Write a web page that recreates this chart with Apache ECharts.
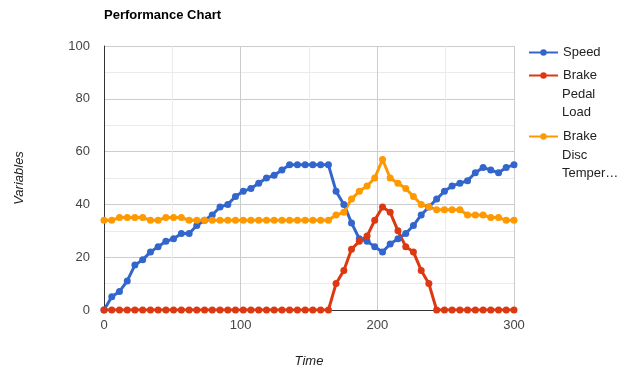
<!DOCTYPE html>
<html>
<head>
<meta charset="utf-8">
<script src="https://cdn.jsdelivr.net/npm/echarts@6/dist/echarts.min.js"></script>
<style>
  html, body { margin: 0; padding: 0; background: #fff; }
  #chart { width: 635px; height: 373px; }
</style>
</head>
<body>
<div id="chart"></div>
<script>
// Sample times (x) shared by all three series
const timeValues = [
  0, 5.7, 11.3, 17.0, 22.6, 28.3, 34.0, 39.6, 45.3, 50.9,
  56.6, 62.3, 67.9, 73.6, 79.2, 84.9, 90.6, 96.2, 101.9, 107.5,
  113.2, 118.9, 124.5, 130.2, 135.8, 141.5, 147.2, 152.8, 158.5, 164.2,
  169.8, 175.5, 181.1, 186.8, 192.5, 198.1, 203.8, 209.4, 215.1, 220.8,
  226.4, 232.1, 237.7, 243.4, 249.1, 254.7, 260.4, 266.0, 271.7, 277.4,
  283.0, 288.7, 294.3, 300.0
];

const speed = [
  0, 5, 7, 11, 17, 19, 22, 24, 26, 27,
  29, 29, 32, 34, 36, 39, 40, 43, 45, 46,
  48, 50, 51, 53, 55, 55, 55, 55, 55, 55,
  45, 40, 33, 27, 26, 24, 22, 25, 27, 29,
  32, 36, 39, 42, 45, 47, 48, 49, 52, 54,
  53, 52, 54, 55
];

const brakePedalLoad = [
  0, 0, 0, 0, 0, 0, 0, 0, 0, 0,
  0, 0, 0, 0, 0, 0, 0, 0, 0, 0,
  0, 0, 0, 0, 0, 0, 0, 0, 0, 0,
  10, 15, 23, 26, 28, 34, 39, 37, 30, 24,
  22, 15, 10, 0, 0, 0, 0, 0, 0, 0,
  0, 0, 0, 0
];

const brakeDiscTemp = [
  34, 34, 35, 35, 35, 35, 34, 34, 35, 35,
  35, 34, 34, 34, 34, 34, 34, 34, 34, 34,
  34, 34, 34, 34, 34, 34, 34, 34, 34, 34,
  36, 37, 42, 45, 47, 50, 57, 50, 48, 46,
  43, 40, 39, 38, 38, 38, 38, 36, 36, 36,
  35, 35, 34, 34
];

const seriesNames = ['Speed', 'Brake Pedal Load', 'Brake Disc Temperature'];
const seriesColors = ['#3366cc', '#dc3912', '#ff9900'];
const xTicks = [0, 100, 200, 300];
const yTicks = [0, 20, 40, 60, 80, 100];

const FONT = 'Arial, "Liberation Sans", sans-serif';

const chart = echarts.init(document.getElementById('chart'), null, { renderer: 'canvas' });

function lineSeries(name, values, color) {
  return {
    name: name,
    type: 'line',
    data: timeValues.map((t, i) => [t, values[i]]),
    symbol: 'circle',
    symbolSize: 7,
    showSymbol: true,
    itemStyle: { color: color },
    lineStyle: { color: color, width: 3 },
    emphasis: { disabled: true },
    animation: false
  };
}

const legendBase = {
  orient: 'vertical',
  left: 528,
  padding: 0,
  itemWidth: 29,
  itemHeight: 8,
  textStyle: { fontFamily: FONT, fontSize: 13, color: '#222' },
  selectedMode: false
};

// wrapped continuation lines of the two long legend entries
const extraLegendLines = [
  ['Pedal', 94], ['Load', 112.5], ['Disc', 155], ['Temper\u2026', 173.5]
];

chart.setOption({
  backgroundColor: '#fff',
  animation: false,
  color: seriesColors,
  title: {
    text: 'Performance Chart',
    left: 104,
    top: 9,
    padding: 0,
    textStyle: { fontFamily: FONT, fontSize: 13, fontWeight: 'bold', color: '#000' }
  },
  grid: { left: 104, right: 121, top: 46, bottom: 61, containLabel: false },
  xAxis: {
    type: 'value',
    min: xTicks[0],
    max: xTicks[xTicks.length - 1],
    interval: xTicks[1] - xTicks[0],
    name: 'Time',
    nameLocation: 'middle',
    nameGap: 45,
    nameTextStyle: { fontFamily: FONT, fontSize: 13, fontStyle: 'italic', color: '#222' },
    axisLine: { show: true, lineStyle: { color: '#333', width: 1 } },
    axisTick: { show: false },
    axisLabel: { fontFamily: FONT, fontSize: 13, color: '#444', margin: 9 },
    splitLine: { show: true, lineStyle: { color: '#ccc', width: 1 } },
    minorTick: { show: false, splitNumber: 2 },
    minorSplitLine: { show: true, lineStyle: { color: '#ebebeb', width: 1 } }
  },
  yAxis: {
    type: 'value',
    min: yTicks[0],
    max: yTicks[yTicks.length - 1],
    interval: yTicks[1] - yTicks[0],
    name: 'Variables',
    nameLocation: 'middle',
    nameRotate: 90,
    nameGap: 78,
    nameTextStyle: { fontFamily: FONT, fontSize: 13, fontStyle: 'italic', color: '#222' },
    axisLine: { show: true, lineStyle: { color: '#333', width: 1 } },
    axisTick: { show: false },
    axisLabel: { fontFamily: FONT, fontSize: 13, color: '#444', margin: 14 },
    splitLine: { show: true, lineStyle: { color: '#ccc', width: 1 } },
    minorTick: { show: false, splitNumber: 2 },
    minorSplitLine: { show: true, lineStyle: { color: '#ebebeb', width: 1 } }
  },
  legend: [
    Object.assign({}, legendBase, { data: [seriesNames[0]], top: 46 }),
    Object.assign({}, legendBase, { data: [seriesNames[1]], top: 69, formatter: () => 'Brake' }),
    Object.assign({}, legendBase, { data: [seriesNames[2]], top: 130, formatter: () => 'Brake' })
  ],
  graphic: extraLegendLines.map(([txt, y]) => ({
    type: 'text',
    silent: true,
    style: {
      text: txt, x: 562, y: y,
      verticalAlign: 'middle',
      font: '13px ' + FONT,
      fill: '#222'
    }
  })),
  series: [
    lineSeries(seriesNames[0], speed, seriesColors[0]),
    lineSeries(seriesNames[1], brakePedalLoad, seriesColors[1]),
    lineSeries(seriesNames[2], brakeDiscTemp, seriesColors[2])
  ]
});
</script>
</body>
</html>
